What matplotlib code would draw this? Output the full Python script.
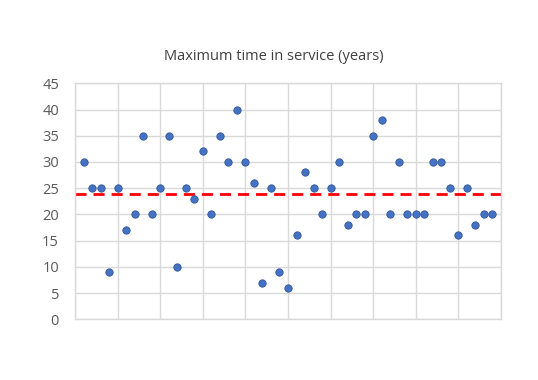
import matplotlib
matplotlib.use("Agg")
import matplotlib.pyplot as plt
import numpy as np

title = "Maximum time in service (years)"
values = [30, 25, 25, 9, 25, 17, 20, 35, 20, 25,
          35, 10, 25, 23, 32, 20, 35, 30, 40, 30,
          26, 7, 25, 9, 6, 16, 28, 25, 20, 25,
          30, 18, 20, 20, 35, 38, 20, 30, 20, 20,
          20, 30, 30, 25, 16, 25, 18, 20, 20]
average = 23.8
x_positions = list(range(1, len(values) + 1))
y_ticks = [0, 5, 10, 15, 20, 25, 30, 35, 40, 45]
x_grid = [0, 5, 10, 15, 20, 25, 30, 35, 40, 45, 50]

plt.rcParams['font.family'] = ['Open Sans', 'DejaVu Sans']

fig = plt.figure(figsize=(5.38, 3.8), dpi=100)
ax = fig.add_axes([75/538, 1 - 319.3/380, (501 - 75)/538, (319.3 - 83.3)/380])

grid_c = '#D9D9D9'
ax.set_xlim(0, 50)
ax.set_ylim(0, 45)
ax.set_xticks(x_grid)
ax.set_yticks(y_ticks)
ax.grid(True, color=grid_c, linewidth=1.0, zorder=0)
ax.set_axisbelow(True)
for s in ax.spines.values():
    s.set_color(grid_c)
    s.set_linewidth(1.0)
ax.tick_params(axis='both', length=0)
ax.tick_params(axis='y', labelsize=10.5, labelcolor='#595959', pad=11.5)
ax.set_xticklabels([])

ax.plot([0, 50], [average, average], color='#FF0000', linewidth=2, linestyle=(0, (4, 2.5)), zorder=2)
ax.scatter(x_positions, values, s=28, color='#4472C4', edgecolors='#2F5597', linewidths=0.6, zorder=3)

fig.text(274/538, 1 - 57/380, title, ha='center', va='center', fontsize=10.5, color='#404040')

fig.savefig('out.png', dpi=100)
